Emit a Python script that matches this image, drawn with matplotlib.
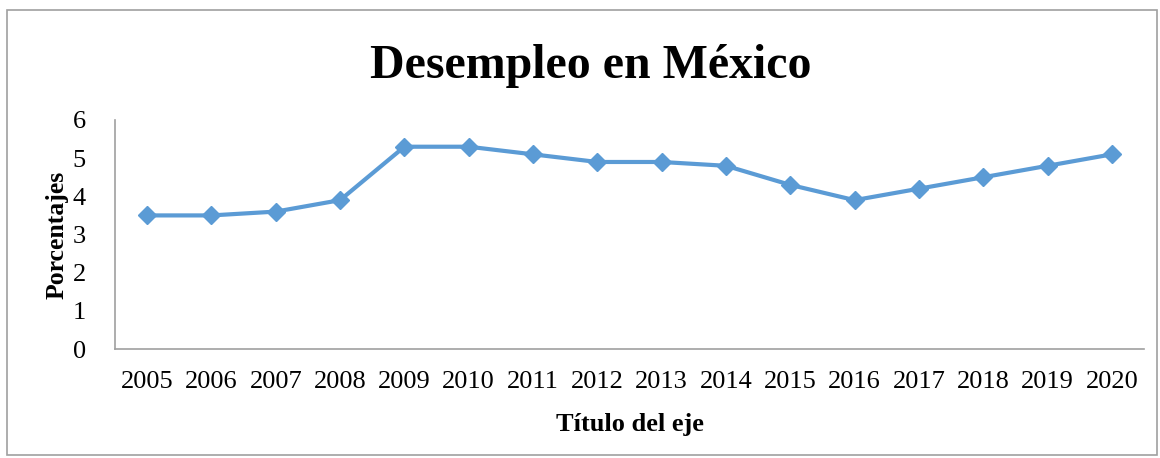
import matplotlib

matplotlib.use("Agg")
import matplotlib.pyplot as plt
from matplotlib.patches import Rectangle

years = [str(y) for y in range(2005, 2021)]
desempleo = [3.5, 3.5, 3.6, 3.9, 5.3, 5.3, 5.1, 4.9, 4.9, 4.8, 4.3, 3.9, 4.2, 4.5, 4.8, 5.1]
yticks = [0, 1, 2, 3, 4, 5, 6]

plt.rcParams["font.family"] = ["Liberation Serif", "DejaVu Serif"]

fig = plt.figure(figsize=(11.6, 4.58), dpi=100)
ax = fig.add_axes([115 / 1160, 1 - 349 / 458, (1144 - 115) / 1160, (349 - 120) / 458])

x = range(len(years))
ax.plot(x, desempleo, color="#5B9BD5", lw=3.0, marker="D", ms=9, zorder=3)

ax.set_xlim(-0.5, len(years) - 0.5)
ax.set_ylim(0, 6)
ax.set_xticks(list(x))
ax.set_xticklabels(years, fontsize=19)
ax.set_yticks(yticks)
ax.set_yticklabels([str(v) for v in yticks], fontsize=19)
ax.tick_params(length=0)
ax.tick_params(axis="x", pad=16)
ax.tick_params(axis="y", pad=21)

for side in ("top", "right"):
    ax.spines[side].set_visible(False)
for side in ("left", "bottom"):
    ax.spines[side].set_color("#a0a0a0")
    ax.spines[side].set_linewidth(1.2)

ax.set_xlabel("Título del eje", fontsize=19, fontweight="bold", labelpad=14)
ax.set_ylabel("Porcentajes", fontsize=18.5, fontweight="bold", labelpad=3)
fig.suptitle("Desempleo en México", fontsize=34.5, fontweight="bold", x=0.509, y=0.905)

fig.patches.append(Rectangle((7 / 1160, 3 / 458), 1150 / 1160, 445 / 458,
                             transform=fig.transFigure, fill=False,
                             edgecolor="#a0a0a0", lw=1.2))

fig.savefig("out.png", dpi=100)
